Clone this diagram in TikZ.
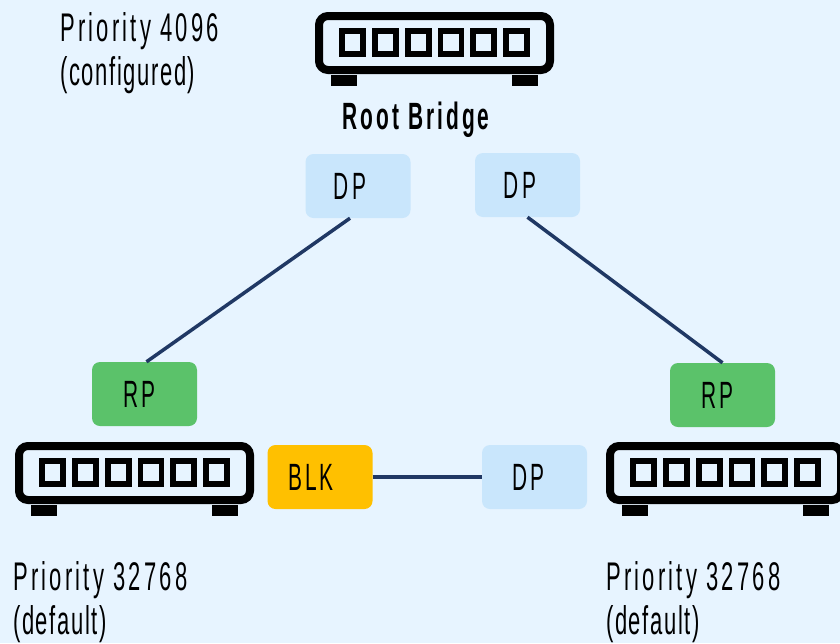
\documentclass[tikz,border=0pt]{standalone}
\usepackage{fontspec}
\setmainfont[FakeStretch=0.55,LetterSpace=8]{Liberation Sans}
\usetikzlibrary{positioning}
\definecolor{bgblue}{HTML}{E7F4FF}
\definecolor{dpblue}{HTML}{C9E6FC}
\definecolor{rpgreen}{HTML}{5BC26A}
\definecolor{blkyellow}{HTML}{FFC000}
\definecolor{linknavy}{HTML}{203864}
\newcommand{\tightline}{\addfontfeature{LetterSpace=4}}

\begin{document}
\begin{tikzpicture}
[x=1pt,y=-1pt]
\tikzset{
	port/.style = {rectangle, rounded corners=8pt, minimum width=105pt, minimum height=64pt, inner sep=0, font=\fontsize{38}{38}\selectfont},
	dp/.style = {port, fill=dpblue},
	rp/.style = {port, fill=rpgreen},
	blk/.style = {port, fill=blkyellow},
	link/.style = {draw=linknavy, line width=3.5pt},
	caption/.style = {anchor=north west, inner sep=0, align=left, font=\fontsize{40}{44}\selectfont},
	switch/.pic = {
		\draw [line width=8pt, rounded corners=9pt] (4,4) rectangle (235,58);
		\foreach \i in {0,...,5}{
			\draw [line width=5.8pt] (27+\i*32.8,19) rectangle (48+\i*32.8,42);
		}
		\fill (16,63) rectangle (42,74);
		\fill (197,63) rectangle (223,74);
	}
}

\fill [bgblue] (0,0) rectangle (840,643);
\useasboundingbox (0,0) rectangle (840,643);

\pic at (315,12) {switch};
\pic at (15,442) {switch};
\pic at (606,442) {switch};

\node (dpa) [dp] at (358,186) {\hspace*{-16pt}DP};
\node (dpb) [dp] at (527.5,185) {\hspace*{-15pt}DP};
\node (rpa) [rp] at (144.5,394) {\hspace*{-10pt}RP};
\node (rpb) [rp] at (722.5,395) {\hspace*{-10pt}RP};
\node (blka) [blk] at (320,477) {\raisebox{-3pt}{\hspace*{-18pt}BLK}};
\node (dpc) [dp] at (534.5,477) {\hspace*{-12pt}DP};

\draw [link] ([xshift=-8pt]dpa.south) -- ([xshift=2pt]rpa.north);
\draw [link] (dpb.south) -- (rpb.north);
\draw [link] (blka) -- (dpc);

\node (rootlabel) at (416,120) {\fontsize{38}{38}\selectfont\bfseries Root Bridge};
\node (prioa) [caption] at (60,12) {Priority 4096\\{\tightline(configured)}};
\node (priob) [caption] at (13,561) {Priority 32768\\{\tightline(default)}};
\node (prioc) [caption] at (606,561) {Priority 32768\\{\tightline(default)}};

\end{tikzpicture}
\end{document}
